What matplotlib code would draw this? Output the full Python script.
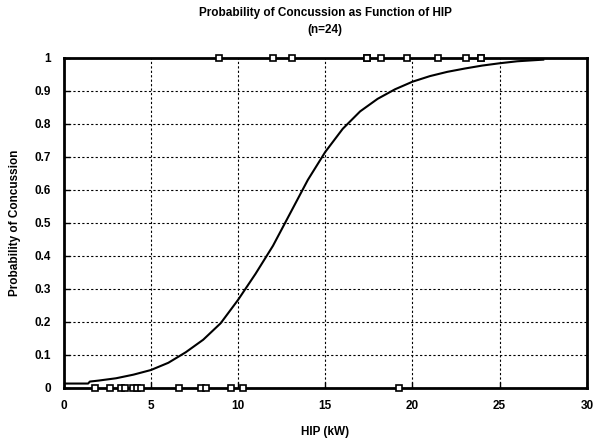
import numpy as np
import matplotlib.pyplot as plt

# fitted curve
curve_hip = [0.0, 1.4, 1.5, 2, 3, 4, 5, 6, 7, 8, 9, 10, 11, 12, 13, 14, 15,
             16, 17, 18, 19, 20, 21, 22, 23, 24, 25, 26, 27.5]
curve_prob = [0.012, 0.012, 0.018, 0.021, 0.028, 0.039, 0.053, 0.075, 0.107, 0.145,
              0.195, 0.266, 0.345, 0.43, 0.53, 0.63, 0.715, 0.785, 0.838, 0.876,
              0.905, 0.928, 0.945, 0.958, 0.968, 0.977, 0.984, 0.99, 0.995]

# observed cases: no concussion (0) and concussion (1)
hip_no = [1.79, 2.65, 3.31, 3.5, 3.98, 4.23, 4.46, 6.59, 7.89, 8.17, 9.6, 10.26, 19.2]
hip_yes = [8.93, 12.02, 13.09, 17.41, 18.17, 19.66, 21.46, 23.09, 23.94, 17.41, 23.94]

plt.rcParams['font.family'] = ['Liberation Sans', 'DejaVu Sans']
plt.rcParams['font.weight'] = 'bold'

fig = plt.figure(figsize=(5.97, 4.42), dpi=100)
ax = fig.add_axes([0.1067, 0.1233, 0.8763, 0.7455])

ax.plot(curve_hip, curve_prob, color='black', lw=1.5, zorder=3)
ax.plot(hip_no, np.zeros(len(hip_no)), ls='none', marker='s', ms=4.5, mfc='white',
        mec='black', mew=1.2, clip_on=False, zorder=5)
ax.plot(hip_yes, np.ones(len(hip_yes)), ls='none', marker='s', ms=4.5, mfc='white',
        mec='black', mew=1.2, clip_on=False, zorder=5)

ax.set_xlim(0, 30)
ax.set_ylim(0, 1)
ax.set_xticks(np.arange(0, 31, 5))
ax.set_yticks(np.arange(0, 1.01, 0.1))
ax.set_yticklabels(['%g' % round(v, 1) for v in np.arange(0, 1.01, 0.1)])
ax.grid(True, color='black', ls=(0, (2, 2)), lw=0.8)
ax.tick_params(direction='in', length=4, width=1, labelsize=8.5, pad=9)
for s in ax.spines.values():
    s.set_linewidth(2)

ax.set_xlabel('HIP (kW)', fontsize=8.5, fontweight='bold', labelpad=10)
ax.set_ylabel('Probability of Concussion', fontsize=8.5, fontweight='bold', labelpad=10)
ax.set_title('Probability of Concussion as Function of HIP\n(n=24)', fontsize=8.5,
             fontweight='bold', pad=18, linespacing=1.6)

fig.savefig('out.png', dpi=100)
